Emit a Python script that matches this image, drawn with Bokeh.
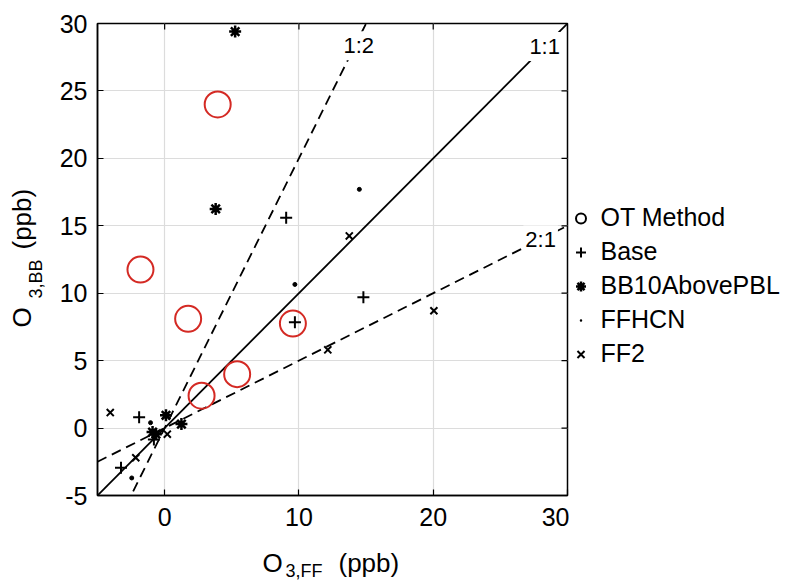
import numpy as np
from bokeh.plotting import figure
from bokeh.layouts import row, column
from bokeh.models import Range1d, FixedTicker, Label, Legend, LegendItem
from bokeh.embed import file_html
from bokeh.resources import INLINE

# ---- data ----
ot_x = [3.95, -1.8, 1.75, 9.55, 5.4, 2.75]
ot_y = [24.0, 11.75, 8.1, 7.75, 4.0, 2.4]

base_x = [9.05, 14.8, 9.7, -1.9, -3.25, -0.8]
base_y = [15.6, 9.7, 7.85, 0.8, -2.95, -0.85]

bb_x = [5.25, 3.8, 0.1, 1.25, -0.9, -0.65]
bb_y = [29.4, 16.25, 0.95, 0.3, -0.3, -0.45]

hcn_x = [14.5, 9.7, -1.05, -2.45]
hcn_y = [17.7, 10.65, 0.4, -3.7]

ff2_x = [13.75, 12.15, 20.05, -4.05, 0.2, -2.15]
ff2_y = [14.25, 5.8, 8.7, 1.15, -0.45, -2.2]

x_ticks = [0, 10, 20, 30]
y_ticks = [-5, 0, 5, 10, 15, 20, 25, 30]
ratio_names = ["1:2", "1:1", "2:1"]
ratio_slopes = [2.0, 1.0, 0.5]
series_names = ["OT Method", "Base", "BB10AbovePBL", "FFHCN", "FF2"]

FONT = "Liberation Sans"
RED = "#d42a24"
X0, X1, Y0, Y1 = -5, 30, -5, 30

# ---------------- main plot ----------------
p = figure(width=519, height=541, x_range=Range1d(X0, X1), y_range=Range1d(Y0, Y1),
           output_backend="svg", toolbar_location=None,
           min_border_left=47, min_border_right=2, min_border_top=23, min_border_bottom=46,
           background_fill_color="white", border_fill_color="white")
p.outline_line_color = "black"
p.outline_line_width = 1.5

def style_axis(ax, ticks, standoff):
    ax.ticker = FixedTicker(ticks=ticks)
    ax.axis_line_color = "black"
    ax.axis_line_width = 1.5
    ax.major_tick_in = 6
    ax.major_tick_out = 0
    ax.major_tick_line_color = "black"
    ax.major_tick_line_width = 1.2
    ax.minor_tick_line_color = None
    ax.major_label_text_font = FONT
    ax.major_label_text_color = "black"
    ax.major_label_text_font_size = "25px"
    ax.major_label_standoff = standoff
    ax.major_label_overrides = {t: str(t) for t in ticks}

style_axis(p.xaxis[0], x_ticks, 12)
style_axis(p.yaxis[0], y_ticks, 10)

# mirrored inward ticks on the top and right edges (from the tick lists)
tick_dx = 6 * (X1 - X0) / 470.0
tick_dy = 6 * (Y1 - Y0) / 472.0
p.segment(x0=x_ticks, y0=[Y1] * len(x_ticks), x1=x_ticks, y1=[Y1 - tick_dy] * len(x_ticks),
          line_color="black", line_width=1.2)
p.segment(x0=[X1] * len(y_ticks), y0=y_ticks, x1=[X1 - tick_dx] * len(y_ticks), y1=y_ticks,
          line_color="black", line_width=1.2)

p.xgrid[0].ticker = FixedTicker(ticks=x_ticks)
p.ygrid[0].ticker = FixedTicker(ticks=y_ticks)
for g in (p.xgrid[0], p.ygrid[0]):
    g.grid_line_color = "#dcdcdc"
    g.grid_line_width = 1.2

# reference ratio lines
rx = np.array([X0, X1], dtype=float)
for name, s in zip(ratio_names, ratio_slopes):
    p.line(rx, rx * s, line_color="black", line_width=1.8,
           line_dash="solid" if s == 1.0 else "10 6")

# data markers
p.scatter(ot_x, ot_y, marker="circle", size=26, fill_color=None, line_color=RED, line_width=2)
p.scatter(base_x, base_y, marker="cross", size=12, line_color="black", line_width=2)
p.scatter(bb_x, bb_y, marker="asterisk", size=12, line_color="black", line_width=2.5)
p.scatter(hcn_x, hcn_y, marker="circle", size=4, fill_color="black", line_color="black")
p.scatter(ff2_x, ff2_y, marker="x", size=10, line_color="black", line_width=2)

# ratio labels (white boxes over the lines)
label_pos = {"1:2": (14.45, 28.35), "1:1": (28.3, 28.3), "2:1": (28.0, 13.95)}
for name in ratio_names:
    lx, ly = label_pos[name]
    p.add_layout(Label(x=lx, y=ly, text=name, text_align="center", text_baseline="middle",
                       text_font=FONT, text_font_size="22px", text_color="black",
                       background_fill_color="white", padding=2))

# ---------------- helper canvases (titles and legend) ----------------
def blank(w, h):
    f = figure(width=w, height=h, x_range=Range1d(0, 1), y_range=Range1d(0, 1),
               output_backend="svg", toolbar_location=None, min_border=0,
               x_axis_type=None, y_axis_type=None,
               background_fill_color="white", border_fill_color="white")
    f.outline_line_color = None
    f.xgrid.visible = False
    f.ygrid.visible = False
    return f

def add_text(f, x, y, text, size, angle=0.0):
    f.add_layout(Label(x=x, y=y, x_units="screen", y_units="screen", text=text, angle=angle,
                       text_font=FONT, text_font_size=size, text_color="black",
                       text_align="left", text_baseline="alphabetic"))

ylab = blank(50, 541)
add_text(ylab, 21, 168, "O", "26px", np.pi / 2)
add_text(ylab, 35, 197, "3,BB", "18px", np.pi / 2)
add_text(ylab, 21, 246, "(ppb)", "26px", np.pi / 2)

xlab = blank(569, 40)
add_text(xlab, 262, 19, "O", "26px")
add_text(xlab, 285, 11, "3,FF", "18px")
add_text(xlab, 338, 19, "(ppb)", "26px")

leg = blank(220, 581)
nan = [float("nan")]
d_ot = leg.scatter(x=nan, y=nan, marker="circle", fill_color=None, line_color="black", line_width=2)
d_base = leg.scatter(x=nan, y=nan, marker="cross", line_color="black", line_width=2)
d_bb = leg.scatter(x=nan, y=nan, marker="asterisk", line_color="black", line_width=2.5)
d_hcn = leg.scatter(x=nan, y=nan, marker="dot", line_color="black", fill_color="black", line_width=2)
d_ff2 = leg.scatter(x=nan, y=nan, marker="x", line_color="black", line_width=2)
items = [LegendItem(label=n, renderers=[r]) for n, r in
         zip(series_names, [d_ot, d_base, d_bb, d_hcn, d_ff2])]
legend = Legend(items=items, location=(-1.5, 213), border_line_color=None,
                background_fill_alpha=0, padding=0, margin=0, spacing=5,
                glyph_width=25, glyph_height=26, label_standoff=8,
                label_text_font=FONT, label_text_font_size="25px", label_text_color="black")
leg.add_layout(legend)

layout = row(column(row(ylab, p), xlab), leg)
open("out.html", "w").write(file_html(layout, INLINE))
